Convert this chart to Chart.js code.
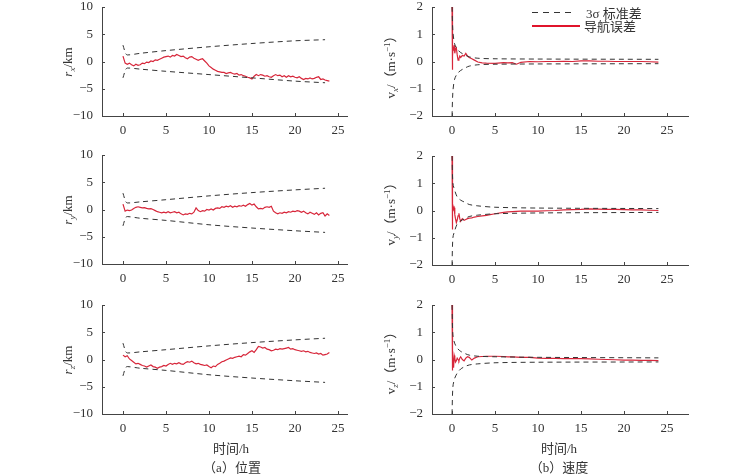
<!DOCTYPE html>
<html>
<head>
<meta charset="utf-8">
<script src="https://cdn.jsdelivr.net/npm/chart.js@4/dist/chart.umd.min.js"></script>
<style>
  body { margin:0; background:#fff; width:750px; height:475px; position:relative; overflow:hidden;
         font-family:"Liberation Serif","Noto Sans CJK SC",serif; color:#333; }
  canvas { position:absolute; }
  .yt { position:absolute; transform:translate(-50%,-50%) rotate(-90deg); white-space:nowrap; font-size:13px; }
  .yt i { font-style:italic; }
  .yt sub { font-size:9px; vertical-align:-3px; font-style:italic; }
  .yt sup { font-size:9px; vertical-align:5px; }
  .lbl { position:absolute; transform:translate(-50%,-50%); white-space:nowrap; font-size:13px; }
  .leg { position:absolute; font-size:13px; white-space:nowrap; }
  .leg .ln { position:absolute; left:0; }
</style>
</head>
<body>
<canvas id="c1"></canvas><canvas id="c2"></canvas><canvas id="c3"></canvas>
<canvas id="c4"></canvas><canvas id="c5"></canvas><canvas id="c6"></canvas>

<div class="yt" style="left:68px;top:62px"><i>r</i><sub>x</sub>/km</div>
<div class="yt" style="left:68px;top:210px"><i>r</i><sub>y</sub>/km</div>
<div class="yt" style="left:68px;top:360px"><i>r</i><sub>z</sub>/km</div>
<div class="yt" style="left:390px;top:64px">v<sub>x</sub>/（m·s<sup>−1</sup>）</div>
<div class="yt" style="left:390px;top:211px">v<sub>y</sub>/（m·s<sup>−1</sup>）</div>
<div class="yt" style="left:390px;top:360px">v<sub>z</sub>/（m·s<sup>−1</sup>）</div>

<div class="lbl" style="left:231px;top:447px">时间/h</div>
<div class="lbl" style="left:232px;top:466px">（a）位置</div>
<div class="lbl" style="left:559px;top:447px">时间/h</div>
<div class="lbl" style="left:559px;top:466px">（b）速度</div>

<div class="leg" style="left:532px;top:3px;width:110px;height:18px">
  <div class="ln" style="top:9px;width:44px;height:1px;background:repeating-linear-gradient(90deg,#333 0 6px,transparent 6px 11px)"></div>
  <span style="position:absolute;left:54px">3σ 标准差</span></div>
<div class="leg" style="left:532px;top:16px;width:110px;height:18px">
  <div class="ln" style="top:9px;width:48px;height:2px;background:#e0142b"></div>
  <span style="position:absolute;left:52px">导航误差</span></div>

<script>
// ---- data ----
const xTicks = [0, 5, 10, 15, 20, 25];

// position error, sampled every 0.25 h
const posT = [0,0.25,0.5,0.75,1,1.25,1.5,1.75,2,2.25,2.5,2.75,3,3.25,3.5,3.75,4,4.25,4.5,4.75,
  5,5.25,5.5,5.75,6,6.25,6.5,6.75,7,7.25,7.5,7.75,8,8.25,8.5,8.75,9,9.25,9.5,9.75,
  10,10.25,10.5,10.75,11,11.25,11.5,11.75,12,12.25,12.5,12.75,13,13.25,13.5,13.75,14,14.25,14.5,14.75,
  15,15.25,15.5,15.75,16,16.25,16.5,16.75,17,17.25,17.5,17.75,18,18.25,18.5,18.75,19,19.25,19.5,19.75,
  20,20.25,20.5,20.75,21,21.25,21.5,21.75,22,22.25,22.5,22.75,23,23.25,23.5,23.75,24];

const rx = [1.0,-0.3,-0.5,-0.3,-0.6,-0.8,-0.5,-0.7,-0.6,-0.3,-0.4,-0.1,-0.2,0.1,0.0,0.3,0.2,0.4,0.6,0.8,
  0.9,1.0,0.8,1.1,1.0,1.3,1.1,0.9,1.0,0.7,0.5,0.8,0.9,0.6,0.4,0.2,0.4,0.5,0.1,-0.3,
  -0.8,-1.1,-1.4,-1.6,-1.8,-1.9,-2.0,-2.0,-2.2,-2.1,-2.0,-2.2,-2.3,-2.2,-2.5,-2.4,-2.6,-2.7,-2.9,-3.0,
  -3.2,-2.7,-2.4,-2.6,-2.4,-2.5,-2.7,-2.6,-2.8,-2.9,-2.6,-2.4,-2.6,-2.5,-2.8,-2.6,-2.9,-2.6,-2.8,-2.7,
  -2.9,-3.0,-2.8,-3.1,-3.3,-3.1,-3.2,-3.0,-3.2,-3.1,-2.9,-2.8,-3.3,-3.2,-3.4,-3.5,-3.6];

const ry = [1.0,-0.3,-0.1,-0.2,-0.1,0.2,0.4,0.5,0.4,0.3,0.35,0.2,0.1,0.15,0.0,-0.2,-0.4,-0.5,-0.6,-0.5,
  -0.6,-0.4,-0.6,-0.5,-0.4,-0.6,-0.5,-0.8,-1.0,-0.8,-0.9,-0.7,-0.8,-0.5,0.3,-0.2,-0.4,-0.2,-0.3,0.0,
  -0.1,0.1,-0.1,0.2,0.3,0.2,0.5,0.4,0.6,0.5,0.7,0.4,0.6,0.5,0.7,0.6,0.8,0.6,0.9,1.1,
  0.8,1.0,0.5,0.1,0.2,0.1,0.4,0.5,0.4,0.6,-0.3,-0.6,-0.8,-0.6,-0.7,-0.5,-0.6,-0.4,-0.5,-0.3,
  -0.4,-0.2,-0.3,-0.5,-0.3,-0.6,-0.8,-0.5,-0.7,-0.9,-0.6,-1.0,-0.7,-0.6,-1.2,-0.8,-1.1];

const rz = [0.8,0.5,0.7,0.1,-0.2,-0.5,-0.8,-0.7,-0.9,-1.1,-1.2,-1.4,-1.2,-1.0,-1.3,-1.4,-1.6,-1.4,-1.3,-1.1,
  -1.2,-0.9,-0.7,-0.9,-0.7,-0.8,-0.6,-0.8,-0.9,-0.6,-0.4,-0.5,-0.3,-0.6,-0.8,-0.7,-0.9,-1.0,-1.1,-1.0,
  -1.3,-1.5,-1.2,-1.3,-0.9,-0.7,-0.4,-0.3,-0.1,0.1,0.3,0.2,0.4,0.5,0.6,0.5,0.9,0.8,1.1,1.4,
  1.6,1.3,1.8,2.4,2.3,2.1,2.2,1.9,1.8,1.6,1.7,1.9,1.8,2.0,1.9,2.0,2.1,2.2,1.9,2.0,
  1.8,1.7,1.6,1.5,1.6,1.4,1.5,1.3,1.2,1.1,1.2,1.0,1.1,0.8,0.9,1.0,1.3];

// 3-sigma envelopes for position
const sigPT = [0, 0.3, 0.5, 2, 5, 10, 15, 20, 23.5];
const rxUp = [3.0, 1.5, 1.2, 1.5, 2.0, 2.7, 3.3, 3.8, 4.0];
const rxLo = [-3.0, -1.5, -1.2, -1.4, -1.8, -2.4, -3.0, -3.6, -3.9];
const ryUp = [3.0, 1.5, 1.2, 1.4, 1.8, 2.5, 3.1, 3.6, 3.9];
const ryLo = [-3.0, -1.5, -1.3, -1.6, -2.0, -2.8, -3.4, -3.9, -4.2];
const rzUp = [3.0, 1.5, 1.2, 1.4, 1.8, 2.5, 3.1, 3.6, 3.9];
const rzLo = [-3.0, -1.5, -1.3, -1.6, -2.0, -2.8, -3.4, -3.9, -4.2];

// velocity error
const vT = [0,0.03,0.08,0.12,0.18,0.25,0.32,0.4,0.5,0.6,0.7,0.8,0.9,1.0,1.2,1.4,1.6,1.8,2.0,2.3,
  2.6,3.0,3.5,4,5,6,6.5,7,7.5,8,9,10,11,12,13,14,15,16,17,18,19,20,21,22,23,24];
const vx = [2.0,-0.3,0.2,0.55,0.4,0.6,0.3,0.45,0.5,0.25,0.05,0.1,0.2,0.15,0.22,0.2,0.3,0.2,0.15,0.1,
  0.05,-0.02,-0.05,-0.06,-0.07,-0.04,-0.05,-0.04,-0.1,-0.03,0.0,-0.01,0.0,0.0,0.01,0.0,0.02,0.02,0.01,0.01,
  0.0,0.0,0.0,0.0,-0.01,-0.02];
const vy = [2.0,-0.7,0.1,0.15,0.05,0.1,-0.15,-0.3,-0.45,-0.35,-0.2,-0.1,-0.3,-0.4,-0.3,-0.36,-0.33,-0.3,-0.28,-0.27,
  -0.24,-0.22,-0.2,-0.18,-0.12,-0.07,-0.05,-0.04,-0.03,-0.02,-0.02,-0.02,-0.01,0.0,0.02,0.03,0.04,0.06,0.05,0.04,
  0.04,0.03,0.02,0.02,0.01,0.0];
const vz = [2.0,-0.4,0.2,-0.1,-0.3,0.15,0.05,-0.1,-0.05,0.05,0.0,-0.05,0.05,0.1,0.0,-0.05,0.05,0.1,0.08,-0.02,
  0.05,0.1,0.11,0.12,0.12,0.11,0.1,0.1,0.09,0.08,0.08,0.05,0.04,0.04,0.03,0.03,0.03,0.02,0.01,0.0,
  -0.01,-0.02,-0.02,-0.03,-0.03,-0.04];

// 3-sigma envelopes for velocity
const sigVT = [0, 0.1, 0.3, 0.6, 1, 1.5, 2, 3, 5, 10, 24];
const vxUp = [2.0, 1.1, 0.65, 0.45, 0.33, 0.24, 0.17, 0.12, 0.1, 0.09, 0.08];
const vxLo = [-2.0, -1.1, -0.65, -0.45, -0.33, -0.24, -0.17, -0.12, -0.1, -0.09, -0.08];
const vyUp = [2.0, 1.0, 0.75, 0.5, 0.38, 0.3, 0.22, 0.17, 0.12, 0.09, 0.07];
const vyLo = [-2.0, -1.0, -0.75, -0.5, -0.38, -0.3, -0.22, -0.17, -0.12, -0.09, -0.07];
const vzUp = [2.0, 0.9, 0.6, 0.42, 0.3, 0.22, 0.16, 0.12, 0.1, 0.08, 0.06];
const vzLo = [-2.0, -1.0, -0.7, -0.5, -0.35, -0.26, -0.2, -0.16, -0.12, -0.1, -0.09];

// ---- helpers ----
const RED = '#d7263a', DASH = '#333', AXIS = '#444';
const pts = (xs, ys) => ys.map((y, i) => ({ x: xs[i], y }));
const minus = v => v < 0 ? '\u2212' + Math.abs(v) : String(v);

// short inward tick marks like the original figure
const innerTicks = {
  id: 'innerTicks',
  afterDraw(chart) {
    const { ctx, chartArea: a, scales: { x, y } } = chart;
    ctx.save();
    ctx.strokeStyle = AXIS; ctx.lineWidth = 1;
    ctx.beginPath();
    x.ticks.forEach(t => { const px = Math.round(x.getPixelForValue(t.value)) + 0.5; ctx.moveTo(px, a.bottom); ctx.lineTo(px, a.bottom - 3); });
    y.ticks.forEach(t => { const py = Math.round(y.getPixelForValue(t.value)) + 0.5; ctx.moveTo(a.left, py); ctx.lineTo(a.left + 3, py); });
    ctx.stroke();
    ctx.restore();
  }
};

function panel(id, box, yAxisW, xr, yr, step, err, errT, up, lo, sigT) {
  const cv = document.getElementById(id);
  cv.style.left = box.left + 'px'; cv.style.top = box.top + 'px';
  cv.width = box.w; cv.height = box.h;
  cv.style.width = box.w + 'px'; cv.style.height = box.h + 'px';
  const font = { family: '"Liberation Serif", serif', size: 13 };
  return new Chart(cv, {
    type: 'line',
    data: { datasets: [
      { data: pts(sigT, up), borderColor: DASH, borderWidth: 1, borderDash: [5, 4], pointRadius: 0, tension: 0.3 },
      { data: pts(sigT, lo), borderColor: DASH, borderWidth: 1, borderDash: [5, 4], pointRadius: 0, tension: 0.3 },
      { data: pts(errT, err), borderColor: RED, borderWidth: 1.2, pointRadius: 0, tension: 0 }
    ]},
    options: {
      responsive: false, animation: false,
      layout: { padding: { left: 0, right: box.pr, top: 7, bottom: 10 } },
      plugins: { legend: { display: false }, tooltip: { enabled: false } },
      scales: {
        x: {
          type: 'linear', min: xr[0], max: xr[1],
          afterBuildTicks: s => { s.ticks = xTicks.map(v => ({ value: v })); },
          afterFit: s => { s.height = 24; s.paddingLeft = 0; s.paddingRight = 0; },
          grid: { display: false, drawTicks: false },
          border: { display: true, color: AXIS, width: 1 },
          ticks: { color: '#333', font, padding: 7, maxRotation: 0, callback: minus }
        },
        y: {
          min: yr[0], max: yr[1],
          ticks: { stepSize: step, color: '#333', font, padding: 9, callback: minus },
          afterFit: s => { s.width = yAxisW; s.paddingTop = 0; s.paddingBottom = 0; },
          grid: { display: false, drawTicks: false },
          border: { display: true, color: AXIS, width: 1 }
        }
      }
    },
    plugins: [innerTicks]
  });
}

const posX = [-2.44, 26.05], velX = [-2.33, 27.44];
panel('c1', { left: 0, top: 0,   w: 360, h: 150, pr: 13 }, 102, posX, [-10, 10], 5, rx, posT, rxUp, rxLo, sigPT);
panel('c2', { left: 0, top: 148, w: 360, h: 150, pr: 13 }, 102, posX, [-10, 10], 5, ry, posT, ryUp, ryLo, sigPT);
panel('c3', { left: 0, top: 298, w: 360, h: 150, pr: 13 }, 102, posX, [-10, 10], 5, rz, posT, rzUp, rzLo, sigPT);
panel('c4', { left: 360, top: 0,   w: 340, h: 150, pr: 12 }, 72, velX, [-2, 2], 1, vx, vT, vxUp, vxLo, sigVT);
panel('c5', { left: 360, top: 149, w: 340, h: 150, pr: 12 }, 72, velX, [-2, 2], 1, vy, vT, vyUp, vyLo, sigVT);
panel('c6', { left: 360, top: 298, w: 340, h: 150, pr: 12 }, 72, velX, [-2, 2], 1, vz, vT, vzUp, vzLo, sigVT);
</script>
</body>
</html>
